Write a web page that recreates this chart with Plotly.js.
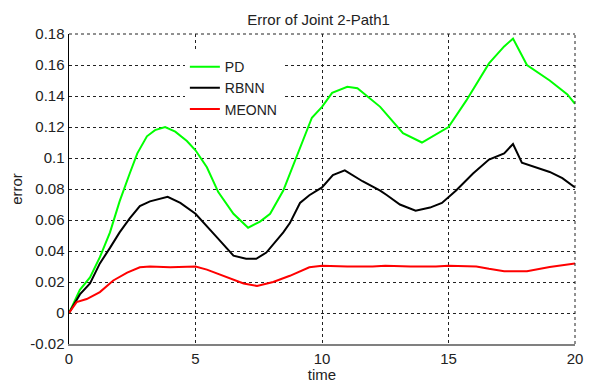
<!DOCTYPE html>
<html>
<head>
<meta charset="utf-8">
<script src="https://cdn.plot.ly/plotly-3.0.1.min.js"></script>
<style>html,body{margin:0;padding:0;background:#fff;}#chart{width:590px;height:383px;}</style>
</head>
<body>
<div id="chart"></div>
<script>
const pdTime = [0,0.43,0.83,1.22,1.62,2.0,2.4,2.7,3.08,3.4,3.8,4.2,4.66,5.0,5.45,5.9,6.5,7.08,7.55,7.95,8.47,8.73,9.13,9.6,10.0,10.4,11.0,11.4,12.3,13.2,13.95,14.5,15.0,15.7,16.6,17.2,17.55,18.1,19.0,19.7,20.0];
const pdError = [0,0.015,0.023,0.036,0.052,0.072,0.090,0.103,0.114,0.118,0.120,0.117,0.111,0.105,0.094,0.078,0.064,0.055,0.059,0.064,0.079,0.090,0.107,0.126,0.133,0.142,0.146,0.145,0.133,0.116,0.110,0.115,0.120,0.137,0.161,0.172,0.177,0.160,0.150,0.141,0.135];

const rbnnTime = [0,0.43,0.83,1.22,1.62,2.0,2.4,2.8,3.2,3.9,4.4,5.0,5.84,6.5,7.0,7.4,7.8,8.47,8.73,9.13,9.5,10.0,10.43,10.9,11.6,12.3,12.57,13.08,13.7,14.27,14.74,15.0,15.3,15.97,16.6,17.2,17.55,17.9,18.5,19.0,19.5,20.0];
const rbnnError = [0,0.012,0.019,0.032,0.042,0.052,0.061,0.069,0.072,0.075,0.071,0.064,0.049,0.037,0.035,0.035,0.039,0.052,0.058,0.071,0.076,0.081,0.089,0.092,0.085,0.079,0.076,0.070,0.066,0.068,0.071,0.075,0.079,0.090,0.099,0.103,0.109,0.097,0.0935,0.091,0.087,0.081];

const meonnTime = [0,0.3,0.7,1.22,1.75,2.3,2.8,3.2,4.0,5.0,5.45,6.24,6.9,7.43,8.07,8.73,9.13,9.5,10.0,11.0,12.0,12.5,13.5,14.5,15.0,16.1,16.6,17.2,18.1,19.0,20.0];
const meonnError = [0,0.007,0.009,0.0135,0.021,0.026,0.0295,0.030,0.0295,0.030,0.028,0.023,0.019,0.0175,0.020,0.024,0.027,0.0295,0.0305,0.030,0.030,0.0305,0.030,0.030,0.0305,0.030,0.0285,0.027,0.027,0.0297,0.032];

const seriesNames = ['PD','RBNN','MEONN'];
const xTicks = [0,5,10,15,20];
const yTicks = [-0.02,0,0.02,0.04,0.06,0.08,0.1,0.12,0.14,0.16,0.18];
const yTickText = ['-0.02','0','0.02','0.04','0.06','0.08','0.1','0.12','0.14','0.16','0.18'];

const font = 'Arial, "Liberation Sans", sans-serif';
const traces = [
  {x: pdTime, y: pdError, name: seriesNames[0], mode: 'lines', line: {color: '#00ff00', width: 2}},
  {x: rbnnTime, y: rbnnError, name: seriesNames[1], mode: 'lines', line: {color: '#000000', width: 2}},
  {x: meonnTime, y: meonnError, name: seriesNames[2], mode: 'lines', line: {color: '#ff0000', width: 2}}
];
const layout = {
  width: 590, height: 383,
  margin: {l: 69, r: 15, t: 34, b: 39},
  paper_bgcolor: '#fff', plot_bgcolor: '#fff',
  font: {family: font, color: '#222', size: 15},
  title: {text: 'Error of Joint 2-Path1', font: {size: 15, family: font, color: '#222'}, x: 0.54, xanchor: 'center', y: 0.962, yanchor: 'top'},
  xaxis: {
    range: [0, 20], tickvals: xTicks, ticktext: xTicks.map(String),
    showgrid: true, gridcolor: '#222', griddash: '3px,3px', gridwidth: 1,
    zeroline: false, showline: true, linecolor: '#808080', linewidth: 2,
    ticks: '', tickfont: {size: 15}, ticklen: 0,
    title: {text: 'time', font: {size: 15}, standoff: 0}
  },
  yaxis: {
    range: [-0.02, 0.18], tickvals: yTicks, ticktext: yTickText,
    showgrid: true, gridcolor: '#222', griddash: '3px,3px', gridwidth: 1,
    zeroline: false, showline: true, linecolor: '#000', linewidth: 1.5,
    ticks: '', tickfont: {size: 15},
    title: {text: 'error', font: {size: 15}, standoff: 4}
  },
  legend: {
    x: 0.229, y: 0.945, xanchor: 'left', yanchor: 'top',
    bgcolor: '#fff', borderwidth: 0, font: {size: 14, family: font, color: '#222'},
    tracegroupgap: 0, entrywidth: 100, entrywidthmode: 'pixels'
  },
  showlegend: true,
  shapes: [
    {type: 'line', xref: 'paper', yref: 'paper', x0: 0, x1: 1, y0: 1, y1: 1, line: {color: '#222', width: 1, dash: '3px,3px'}},
    {type: 'line', xref: 'paper', yref: 'paper', x0: 1, x1: 1, y0: 0, y1: 1, line: {color: '#222', width: 1, dash: '3px,3px'}}
  ]
};
Plotly.newPlot('chart', traces, layout, {displayModeBar: false, staticPlot: true});
</script>
</body>
</html>
